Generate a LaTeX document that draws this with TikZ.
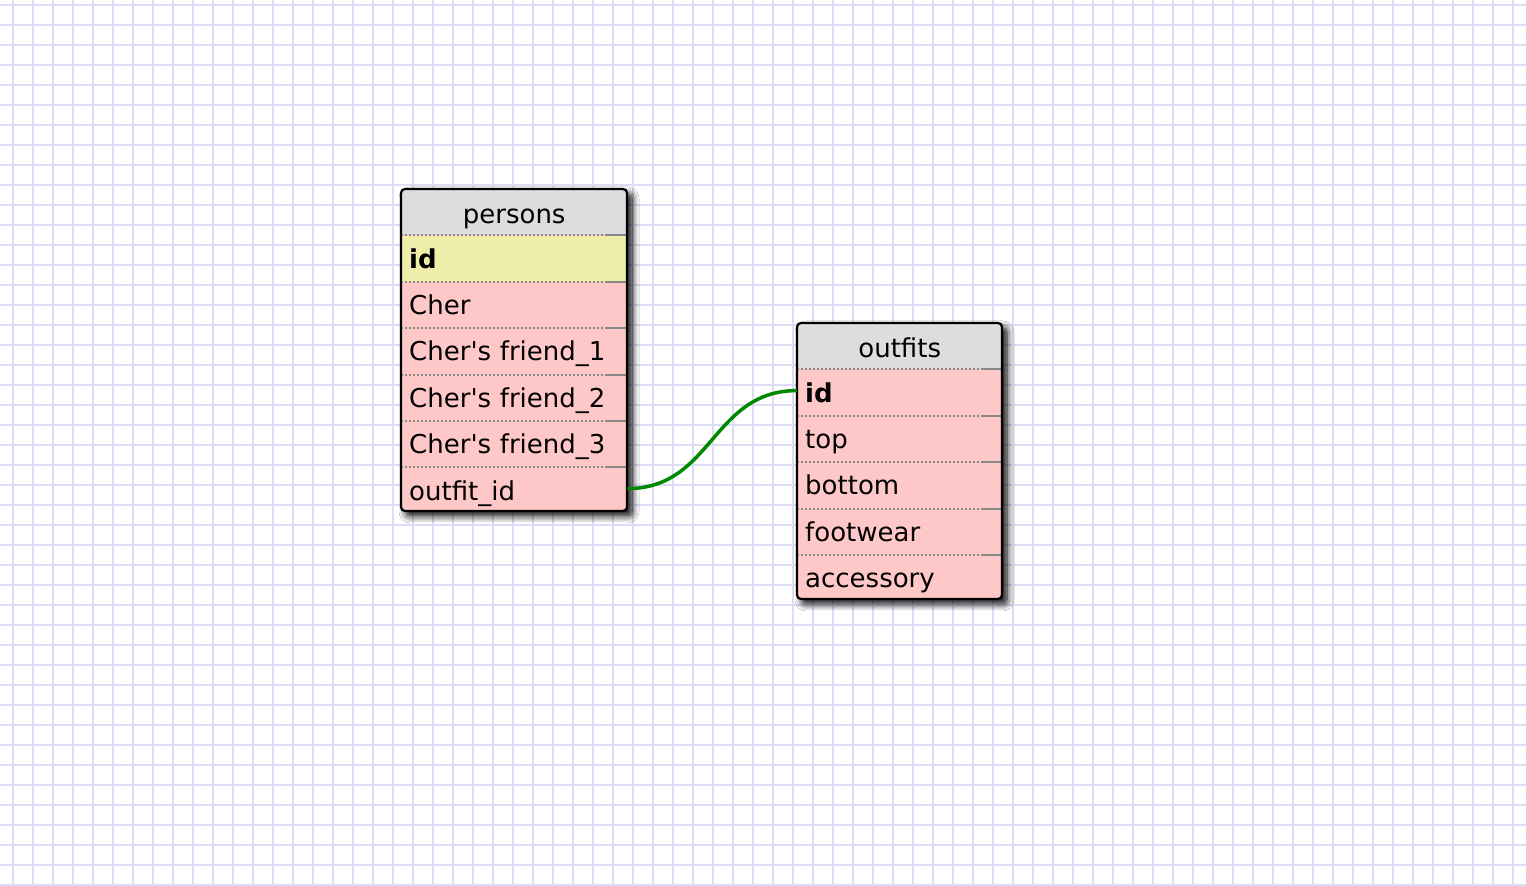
\documentclass[tikz,border=0pt]{standalone}
\usepackage{fontspec}
\setmainfont{DejaVu Sans}
\usetikzlibrary{positioning,shadows.blur}

\definecolor{gridline}{RGB}{220,220,245}
\definecolor{headgray}{RGB}{221,221,221}
\definecolor{keyyellow}{RGB}{238,238,170}
\definecolor{rowpink}{RGB}{255,200,200}
\definecolor{linkgreen}{RGB}{0,136,0}
\definecolor{sepgray}{RGB}{136,136,136}

\tikzset{
  field/.style={anchor=north west, inner xsep=8pt, inner ysep=0pt,
    text width=#1, minimum height=46pt, align=left,
    text height=25pt, text depth=6pt,
    font=\fontsize{26}{30}\selectfont},
  header/.style={align=center, text height=27pt, text depth=5pt, fill=headgray},
  tablebox/.style={fill=rowpink, rounded corners=4pt,
    blur shadow={shadow xshift=5pt, shadow yshift=-5pt,
      shadow blur radius=7pt, shadow blur steps=8, shadow opacity=100}},
  tableframe/.style={draw=black, line width=2.2pt, rounded corners=4pt},
  sep/.style={draw=sepgray, line width=2pt, dash pattern=on 2pt off 2pt},
  link/.style={draw=linkgreen, line width=3.5pt}
}

\begin{document}
\begin{tikzpicture}[x=1pt,y=1pt]
    \useasboundingbox (0,0) rectangle (1526,886);
    \fill[white] (0,0) rectangle (1526,886);
    % background grid
    \foreach \x in {13,33,...,1513}
        \draw[gridline, line width=2pt] (\x,0) -- (\x,886);
    \foreach \y in {1,21,...,881}
        \draw[gridline, line width=2pt] (0,\y) -- (1526,\y);

    % persons table
    \path[tablebox] (401,375) rectangle (627,697);
    \begin{scope}
        \clip[rounded corners=4pt] (401,375) rectangle (627,697);
        \node[field=210pt, header] (persons) at (401,697) {persons};
        \node[field=210pt, fill=keyyellow, below=0pt of persons] (p-id) {\textbf{id}};
        \node[field=210pt, below=0pt of p-id] (p-cher) {Cher};
        \node[field=210pt, below=0pt of p-cher] (p-f1) {Cher\textquotesingle s friend\_1};
        \node[field=210pt, below=0pt of p-f1] (p-f2) {Cher\textquotesingle s friend\_2};
        \node[field=210pt, below=0pt of p-f2] (p-f3) {Cher\textquotesingle s friend\_3};
        \node[field=210pt, below=0pt of p-f3] (p-outfit) {outfit\_id};
        \foreach \r in {persons,p-id,p-cher,p-f1,p-f2,p-f3} {
            \draw[sep] (\r.south west) -- ([xshift=-20pt]\r.south east);
            \draw[sepgray, line width=2pt] ([xshift=-20pt]\r.south east) -- (\r.south east);
        }
    \end{scope}
    \path[tableframe] (401,375) rectangle (627,697);

    % outfits table
    \path[tablebox] (797,287) rectangle (1002,563);
    \begin{scope}
        \clip[rounded corners=4pt] (797,287) rectangle (1002,563);
        \node[field=189pt, header] (outfits) at (797,563) {outfits};
        \node[field=189pt, below=0pt of outfits] (o-id) {\textbf{id}};
        \node[field=189pt, below=0pt of o-id] (o-top) {top};
        \node[field=189pt, below=0pt of o-top] (o-bottom) {bottom};
        \node[field=189pt, below=0pt of o-bottom] (o-foot) {footwear};
        \node[field=189pt, below=0pt of o-foot] (o-acc) {accessory};
        \foreach \r in {outfits,o-id,o-top,o-bottom,o-foot} {
            \draw[sep] (\r.south west) -- ([xshift=-20pt]\r.south east);
            \draw[sepgray, line width=2pt] ([xshift=-20pt]\r.south east) -- (\r.south east);
        }
    \end{scope}
    \path[tableframe] (797,287) rectangle (1002,563);

    % link outfit_id -> id
    \draw[link] ([yshift=2pt]p-outfit.east) .. controls +(85,0) and +(-85,0) .. ([yshift=2pt]o-id.west);
\end{tikzpicture}
\end{document}
